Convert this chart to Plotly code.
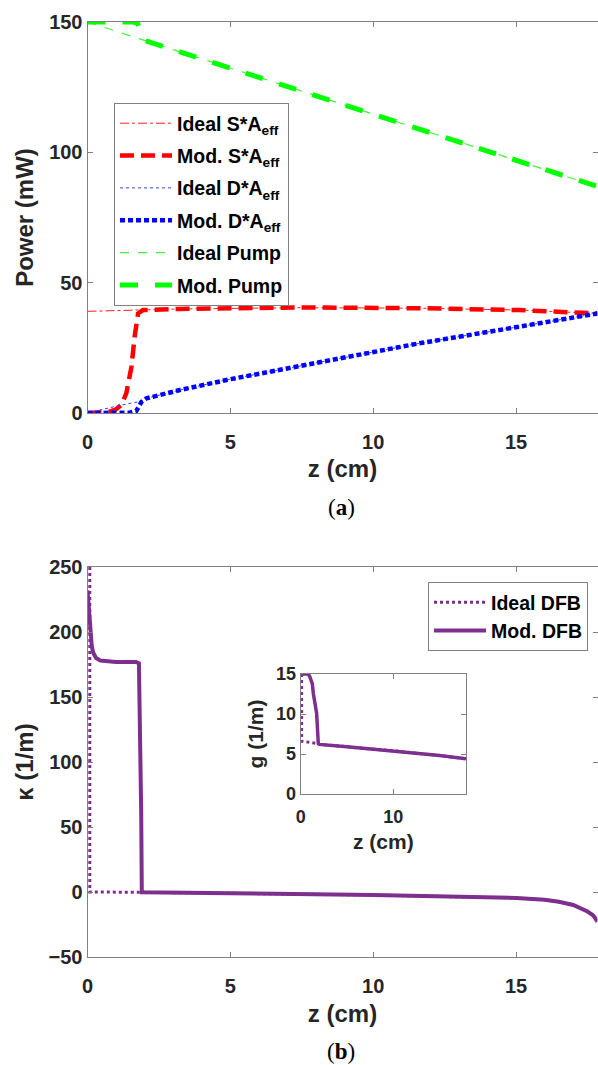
import plotly.graph_objects as go

W, H = 598, 1065

# ---------------- Panel (a): power vs z ----------------
z_ideal_s = [0, 1.9, 3.2, 7.3, 11.6, 15.1, 17.85]
p_ideal_s = [39.0, 39.4, 39.9, 40.4, 40.2, 39.5, 38.2]

z_mod_s = [0, 0.5, 0.78, 1.0, 1.19, 1.36, 1.54, 1.65, 1.77, 1.94, 3.23, 7.3, 11.6, 15.1, 17.85]
p_mod_s = [0, 0.1, 0.5, 1.4, 3.1, 7.6, 17.8, 29.3, 38.2, 39.5, 39.9, 40.5, 40.2, 39.5, 38.2]

z_ideal_d = [0, 0.5, 1.0, 1.5, 1.9, 2.06, 3.23, 4.97, 7.3, 11.6, 15.1, 17.85]
p_ideal_d = [0, 1.4, 2.6, 3.7, 4.5, 5.6, 8.8, 12.9, 17.8, 26.7, 33.1, 38.2]

z_mod_d = [0, 1.48, 1.71, 1.89, 2.06, 3.23, 4.97, 7.3, 11.6, 15.1, 17.85]
p_mod_d = [0, 0.1, 0.8, 4.3, 5.6, 8.8, 12.9, 17.8, 26.7, 33.1, 38.2]

z_ideal_p = [0, 2, 4, 6, 8, 10, 12, 14, 16, 17.85]
p_ideal_p = [150, 142.9, 135.8, 128.7, 121.7, 114.6, 107.5, 100.5, 93.4, 86.9]

z_mod_p = [0, 1.6, 1.75, 1.83, 1.95, 2, 4, 6, 8, 10, 12, 14, 16, 17.85]
p_mod_p = [150, 150, 149.5, 147.0, 144.0, 142.9, 135.8, 128.7, 121.7, 114.6, 107.5, 100.5, 93.4, 86.9]

# ---------------- Panel (b): kappa vs z ----------------
z_ideal_k = [0.08, 0.08, 1.9, 5, 10, 15, 16, 16.5, 17, 17.5, 17.7, 17.85]
k_ideal = [250, 0, -0.2, -1.0, -2.3, -4.6, -6.0, -7.5, -10.0, -15.0, -18.0, -22.8]

z_mod_k = [0, 0.05, 0.1, 0.15, 0.2, 0.3, 0.45, 1.0, 1.7, 1.8, 1.88, 1.9, 5, 10, 15, 16, 16.5, 17, 17.5, 17.7, 17.85]
k_mod = [232, 215, 198, 189, 184, 180, 178, 177, 177, 176, 60, -0.2, -1.0, -2.3, -4.6, -6.0, -7.5, -10.0, -15.0, -18.0, -22.8]

# ---------------- Inset: g vs z ----------------
z_ideal_g = [0.1, 0.1, 1.9, 2.0, 5, 10, 15, 17.85]
g_ideal = [15, 6.6, 6.3, 6.2, 5.9, 5.4, 4.8, 4.4]

z_mod_g = [0, 0.83, 1.0, 1.25, 1.36, 1.6, 1.72, 1.9, 2.0, 5, 10, 15, 17.85]
g_mod = [15, 15, 14.6, 13.8, 12.6, 10.8, 10.1, 6.3, 6.2, 5.9, 5.4, 4.8, 4.4]

PURPLE = "#7E2F8E"
AX = "#808080"
TXT = "#262626"
FONT = "Liberation Sans"

fig = go.Figure()

def add(x, y, name, color, width, dash, xa, ya, legend, group):
    fig.add_trace(go.Scatter(x=x, y=y, mode="lines", name=name,
                             line=dict(color=color, width=width, dash=dash),
                             xaxis=xa, yaxis=ya, legend=legend, legendgroup=group))

add(z_ideal_s, p_ideal_s, "Ideal S*A<sub>eff</sub>", "#ff2020", 1, "dashdot", "x", "y", "legend", "a1")
add(z_mod_s, p_mod_s, "Mod. S*A<sub>eff</sub>", "#ff0000", 4.5, "14px,7px", "x", "y", "legend", "a2")
add(z_ideal_d, p_ideal_d, "Ideal D*A<sub>eff</sub>", "#3040ff", 1, "dot", "x", "y", "legend", "a3")
add(z_mod_d, p_mod_d, "Mod. D*A<sub>eff</sub>", "#0000ff", 4.5, "5px,3px", "x", "y", "legend", "a4")
add(z_ideal_p, p_ideal_p, "Ideal Pump", "#40f040", 1.2, "dash", "x", "y", "legend", "a5")
add(z_mod_p, p_mod_p, "Mod. Pump", "#00ff00", 5, "18px,17px", "x", "y", "legend", "a6")

add(z_ideal_k, k_ideal, "Ideal DFB", PURPLE, 3, "3px,3px", "x2", "y2", "legend2", "b1")
add(z_mod_k, k_mod, "Mod. DFB", PURPLE, 4, "solid", "x2", "y2", "legend2", "b2")

fig.add_trace(go.Scatter(x=z_ideal_g, y=g_ideal, mode="lines", showlegend=False,
                         line=dict(color=PURPLE, width=3, dash="3px,3px"), xaxis="x3", yaxis="y3"))
fig.add_trace(go.Scatter(x=z_mod_g, y=g_mod, mode="lines", showlegend=False,
                         line=dict(color=PURPLE, width=3.5), xaxis="x3", yaxis="y3"))

def px(v):
    return v / W

def py(v):
    return 1 - v / H

def axis(domain, rng, tickvals, anchor, size=20, title=None, tsize=24, standoff=10, lstand=0):
    d = dict(domain=domain, range=rng, tickvals=tickvals, anchor=anchor, automargin=False,
             showline=True, linecolor=AX, linewidth=1, mirror="ticks",
             ticks="inside", ticklen=5, tickcolor=AX, showgrid=False, zeroline=False,
             ticklabelstandoff=lstand,
             tickfont=dict(family=FONT, size=size, color=TXT, weight="bold"))
    if title:
        d["title"] = dict(text=title, font=dict(family=FONT, size=tsize, color=TXT, weight="bold"),
                          standoff=standoff)
    return d

fig.update_layout(
    width=W, height=H, margin=dict(l=0, r=0, t=0, b=0, autoexpand=False),
    paper_bgcolor="white", plot_bgcolor="white",
    xaxis=axis([px(87.5), px(597.5)], [0, 17.85], [0, 5, 10, 15], "y", title="z (cm)",
               standoff=8, lstand=11),
    yaxis=axis([py(413), py(22)], [0, 150], [0, 50, 100, 150], "x", title="Power (mW)", standoff=8),
    xaxis2=axis([px(87.5), px(597.5)], [0, 17.85], [0, 5, 10, 15], "y2", title="z (cm)",
                standoff=9, lstand=11),
    yaxis2=axis([py(957), py(567)], [-50, 250], [-50, 0, 50, 100, 150, 200, 250], "x2",
                title="κ (1/m)", standoff=8),
    xaxis3=axis([px(300.7), px(466)], [0, 17.85], [0, 10], "y3", size=18, title="z (cm)", tsize=21,
                standoff=8, lstand=6),
    yaxis3=axis([py(794), py(674)], [0, 15], [0, 5, 10, 15], "x3", size=18, title="g (1/m)", tsize=21,
                standoff=6),
    legend=dict(x=px(114), y=py(103), xanchor="left", yanchor="top", itemwidth=52,
                bgcolor="white", bordercolor=AX, borderwidth=1, tracegroupgap=4,
                font=dict(family=FONT, size=19.5, color="black", weight="bold")),
    legend2=dict(x=px(428), y=py(582), xanchor="left", yanchor="top", itemwidth=52,
                 bgcolor="white", bordercolor=AX, borderwidth=1, tracegroupgap=0,
                 font=dict(family=FONT, size=19.5, color="black", weight="bold")),
    annotations=[
        dict(text="(<b>a</b>)", x=px(341), y=py(508), xref="paper", yref="paper",
             xanchor="center", yanchor="middle",
             showarrow=False, font=dict(family="Liberation Serif", size=23, color="black")),
        dict(text="(<b>b</b>)", x=px(341), y=py(1051), xref="paper", yref="paper",
             xanchor="center", yanchor="middle",
             showarrow=False, font=dict(family="Liberation Serif", size=23, color="black")),
    ],
)

fig.write_html("out.html", config={"displayModeBar": False},
               post_script="document.body.style.margin='0';document.body.style.padding='0';")
